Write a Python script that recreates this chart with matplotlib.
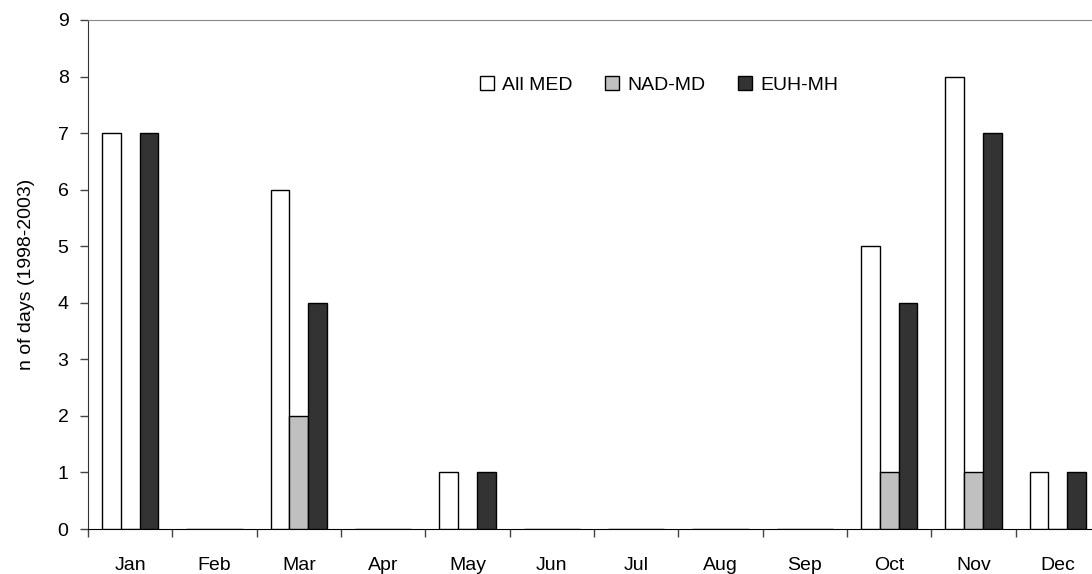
import numpy as np
import matplotlib
matplotlib.use('Agg')
import matplotlib.pyplot as plt

plt.rcParams['font.family'] = ['Liberation Sans', 'DejaVu Sans']

months = ['Jan', 'Feb', 'Mar', 'Apr', 'May', 'Jun', 'Jul', 'Aug', 'Sep', 'Oct', 'Nov', 'Dec']
all_med = [7, 0, 6, 0, 1, 0, 0, 0, 0, 5, 8, 1]
nad_md = [0, 0, 2, 0, 0, 0, 0, 0, 0, 1, 1, 0]
euh_mh = [7, 0, 4, 0, 1, 0, 0, 0, 0, 4, 7, 1]

series_names = ['All MED', 'NAD-MD', 'EUH-MH']
series_colors = ['white', '#c0c0c0', '#333333']

fig = plt.figure(figsize=(10.92, 5.74), dpi=100)
# plot area runs a little past the right edge, as in the source picture
ax = fig.add_axes([88 / 1092, 45 / 574, 1012 / 1092, 509 / 574])

x = np.arange(len(months))
width = 0.222
for i, (vals, name, col) in enumerate(zip([all_med, nad_md, euh_mh], series_names, series_colors)):
    ax.bar(x + (i - 1) * width, vals, width, color=col, edgecolor='black',
           linewidth=1.0, label=name, zorder=3)

ax.set_xlim(-0.5, len(months) - 0.5)
ax.set_ylim(0, 9)
ax.set_yticks(range(0, 10))
ax.set_xticks(np.arange(len(months) + 1) - 0.5, minor=False)
ax.set_xticklabels([])
ax.set_xticks(x, minor=True)
ax.set_xticklabels(months, minor=True)
ax.tick_params(axis='x', which='major', direction='out', length=6, width=1, color='#444444')
ax.tick_params(axis='x', which='minor', length=0, pad=20, labelsize=14)
ax.tick_params(axis='y', direction='out', length=6, width=1, labelsize=14, pad=8, color='#444444')

ax.spines['top'].set_color('#888888')
ax.spines['right'].set_visible(False)
ax.spines['left'].set_color('#333333')
ax.spines['bottom'].set_color('black')

ax.set_ylabel('n of days (1998-2003)', fontsize=14, labelpad=16)

ax.legend(loc='center', bbox_to_anchor=(659 / 1092, 1 - 85 / 574), bbox_transform=fig.transFigure,
          ncol=3, frameon=False, fontsize=14, handlelength=0.72, handleheight=0.72,
          handletextpad=0.4, columnspacing=1.7)

fig.savefig('out.png', dpi=100)
